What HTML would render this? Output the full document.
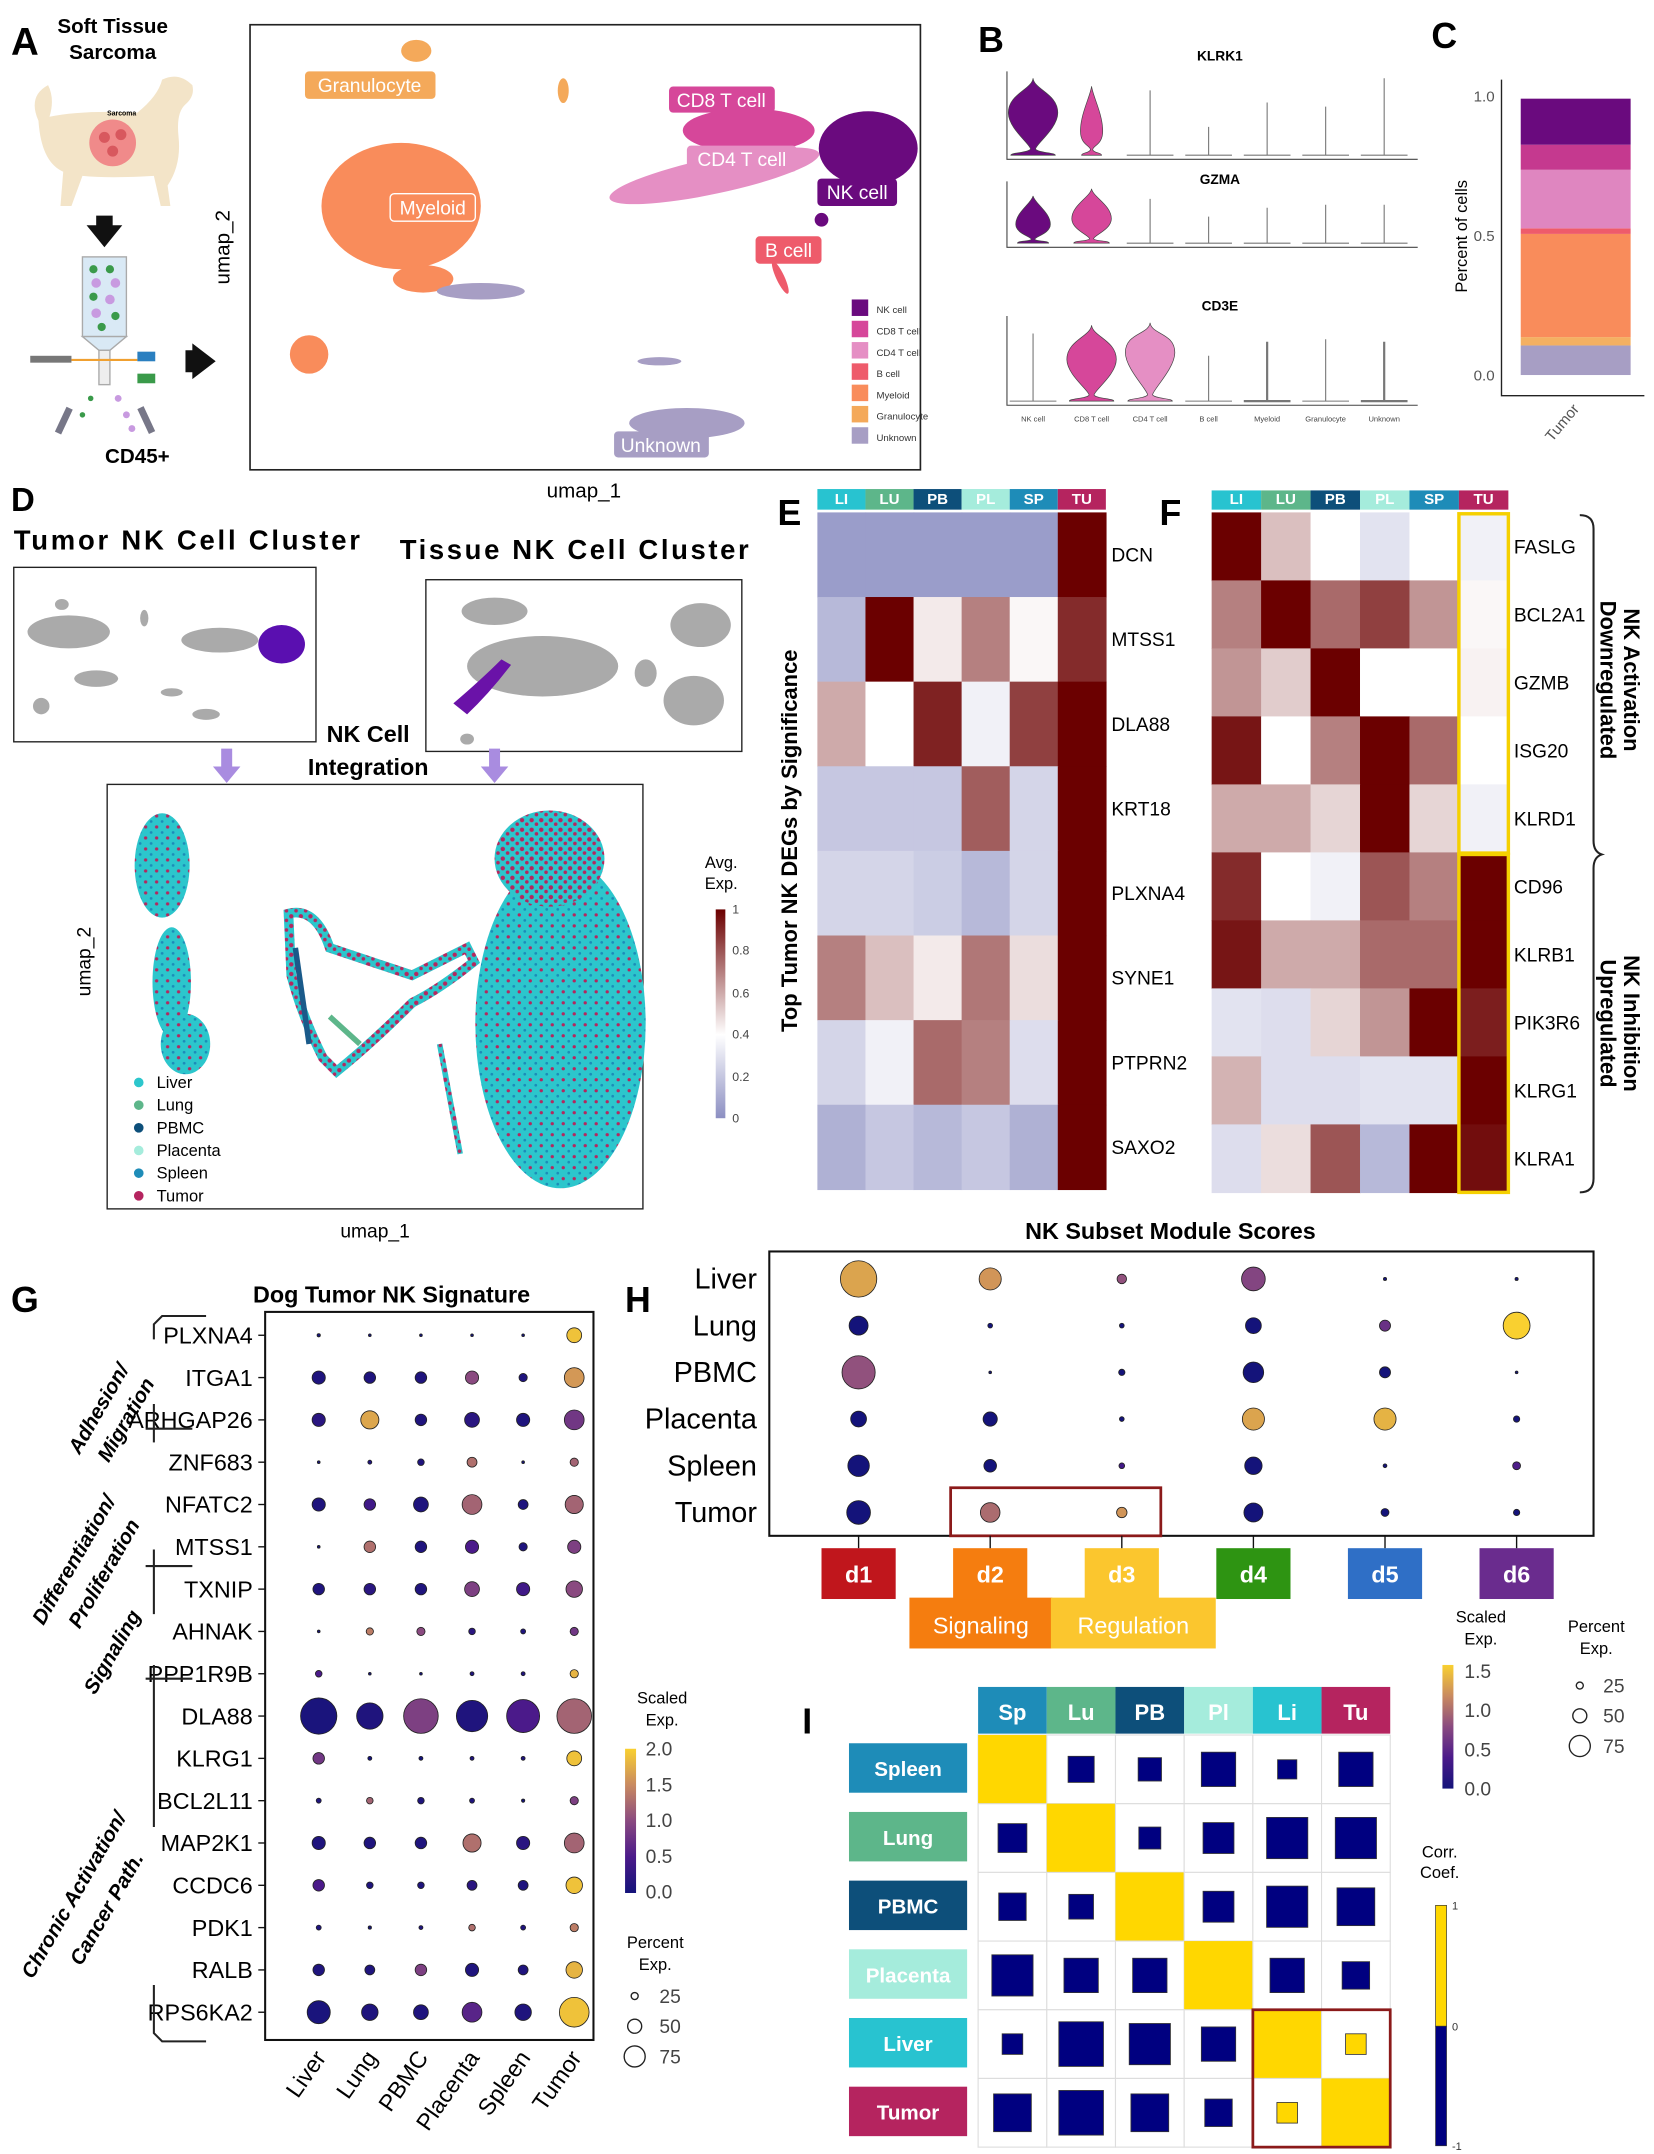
<!DOCTYPE html>
<html><head><meta charset="utf-8">
<style>
html,body{margin:0;padding:0;background:#fff;}
svg{display:block;font-family:"Liberation Sans",sans-serif;}
.b{font-weight:bold;}
</style></head>
<body>
<svg id="fig" xmlns="http://www.w3.org/2000/svg" width="1654" height="2154" viewBox="0 0 1204 1568">
<defs>
<pattern id="mix" width="8" height="8" patternUnits="userSpaceOnUse">
<rect width="8" height="8" fill="#2cc6cc"/>
<circle cx="2" cy="2" r="1.2" fill="#b3285f"/>
<circle cx="6" cy="6" r="1" fill="#1c8cb8"/>
</pattern>
<pattern id="mix2" width="7" height="7" patternUnits="userSpaceOnUse">
<rect width="7" height="7" fill="#2cc6cc"/>
<circle cx="2" cy="2" r="1.6" fill="#b3285f"/>
<circle cx="5.5" cy="5" r="1.3" fill="#b3285f"/>
</pattern>
<linearGradient id="gEx" x1="0" y1="1" x2="0" y2="0">
<stop offset="0" stop-color="#8c8fc2"/><stop offset="0.4" stop-color="#ffffff"/><stop offset="1" stop-color="#6b0000"/>
</linearGradient>
<linearGradient id="gPl" x1="0" y1="1" x2="0" y2="0">
<stop offset="0" stop-color="#14137a"/><stop offset="0.25" stop-color="#4b1a8a"/><stop offset="0.5" stop-color="#8a4a80"/><stop offset="0.75" stop-color="#c98a60"/><stop offset="1" stop-color="#f9d030"/>
</linearGradient>
</defs>

<!-- Panel A -->
<g>
<text x="8" y="40" font-size="28" class="b">A</text>
<text x="82" y="24" font-size="15" class="b" text-anchor="middle">Soft Tissue</text>
<text x="82" y="43" font-size="15" class="b" text-anchor="middle">Sarcoma</text>
<g>
<path d="M28,88 Q20,70 35,62 Q40,72 36,85 Q60,80 100,82 Q115,70 118,58 Q130,52 140,62 Q142,70 135,76 Q128,82 130,100 Q132,120 122,135 L124,150 L117,150 L112,128 Q80,130 60,128 L52,150 L44,150 L46,125 Q30,118 28,88 Z" fill="#f3e4c8"/>
<circle cx="82" cy="104" r="17" fill="#f08a8a"/>
<circle cx="76" cy="100" r="4" fill="#d8585e"/><circle cx="88" cy="98" r="4" fill="#d8585e"/><circle cx="82" cy="110" r="4" fill="#d8585e"/>
<text x="78" y="84" font-size="5" class="b">Sarcoma</text>
</g>
<path d="M70,157 L82,157 L82,164 L89,164 L76,180 L63,164 L70,164 Z" fill="#111"/>
<g>
<rect x="60" y="187" width="32" height="58" fill="#d9e9f5" stroke="#aaa"/>
<circle cx="68" cy="196" r="3" fill="#3a9a4a"/><circle cx="80" cy="196" r="3" fill="#3a9a4a"/><circle cx="70" cy="206" r="3.5" fill="#c89ae0"/><circle cx="84" cy="206" r="3.5" fill="#c89ae0"/><circle cx="68" cy="216" r="3" fill="#3a9a4a"/><circle cx="80" cy="218" r="3.5" fill="#c89ae0"/><circle cx="70" cy="228" r="3.5" fill="#c89ae0"/><circle cx="84" cy="230" r="3" fill="#3a9a4a"/><circle cx="74" cy="238" r="3" fill="#3a9a4a"/>
<path d="M60,245 L92,245 L80,255 L72,255 Z" fill="#d9e9f5" stroke="#aaa"/>
<rect x="72" y="255" width="8" height="25" fill="#eee" stroke="#aaa"/>
<rect x="22" y="259" width="30" height="5" fill="#777"/>
<line x1="52" y1="262" x2="100" y2="262" stroke="#f0a030" stroke-width="1.5"/>
<rect x="100" y="256" width="13" height="7" fill="#2a7fc0"/><rect x="100" y="272" width="13" height="7" fill="#3a9a4a"/>
<circle cx="66" cy="290" r="2" fill="#3a9a4a"/><circle cx="60" cy="302" r="2" fill="#3a9a4a"/><circle cx="86" cy="290" r="2.5" fill="#c89ae0"/><circle cx="92" cy="302" r="2.5" fill="#c89ae0"/><circle cx="96" cy="312" r="2.5" fill="#c89ae0"/>
<rect x="44" y="296" width="5" height="20" fill="#778" transform="rotate(25 46 306)"/><rect x="104" y="296" width="5" height="20" fill="#778" transform="rotate(-25 106 306)"/>
</g>
<path d="M135,255 L140,255 L140,250 L157,263 L140,276 L140,271 L135,271 Z" fill="#111"/>
<text x="100" y="337" font-size="15" class="b" text-anchor="middle">CD45+</text>
<rect x="182" y="18" width="488" height="324" fill="none" stroke="#222" stroke-width="1.2"/>
<text transform="translate(167,180) rotate(-90)" font-size="15" text-anchor="middle">umap_2</text>
<text x="425" y="362" font-size="15" text-anchor="middle">umap_1</text>
<g>
<ellipse cx="303" cy="37" rx="11" ry="8" fill="#f4a95a"/>
<ellipse cx="410" cy="66" rx="4" ry="9" fill="#f4a95a"/>
<ellipse cx="292" cy="150" rx="58" ry="46" fill="#f98c5b"/>
<ellipse cx="308" cy="203" rx="22" ry="10" fill="#f98c5b"/>
<ellipse cx="225" cy="258" rx="14" ry="14" fill="#f98c5b"/>
<ellipse cx="545" cy="95" rx="48" ry="16" fill="#d6479a"/>
<ellipse cx="520" cy="128" rx="78" ry="13" transform="rotate(-12 520 128)" fill="#e58fc4"/>
<ellipse cx="632" cy="108" rx="36" ry="27" fill="#6a0a7e"/>
<ellipse cx="598" cy="160" rx="5" ry="5" fill="#6a0a7e"/>
<ellipse cx="568" cy="202" rx="3" ry="13" transform="rotate(-25 568 202)" fill="#ee5b6b"/>
<ellipse cx="350" cy="212" rx="32" ry="6" fill="#a79ec4"/>
<ellipse cx="480" cy="263" rx="16" ry="3" fill="#a79ec4"/>
<ellipse cx="500" cy="308" rx="42" ry="11" fill="#a79ec4"/>
</g>
<g font-size="14" fill="#fff">
<rect x="222" y="52" width="95" height="20" rx="3" fill="#f4a95a"/><text x="269" y="67" text-anchor="middle" fill="#fff">Granulocyte</text>
<rect x="284" y="141" width="62" height="20" rx="3" fill="#f98c5b" stroke="#fff"/><text x="315" y="156" text-anchor="middle" fill="#fff">Myeloid</text>
<rect x="487" y="63" width="77" height="19" rx="3" fill="#d6479a"/><text x="525" y="78" text-anchor="middle" fill="#fff">CD8 T cell</text>
<rect x="500" y="106" width="80" height="19" rx="3" fill="#e58fc4"/><text x="540" y="121" text-anchor="middle" fill="#fff">CD4 T cell</text>
<rect x="595" y="130" width="58" height="20" rx="3" fill="#6a0a7e"/><text x="624" y="145" text-anchor="middle" fill="#fff">NK cell</text>
<rect x="550" y="172" width="48" height="20" rx="3" fill="#ee5b6b"/><text x="574" y="187" text-anchor="middle" fill="#fff">B cell</text>
<rect x="447" y="314" width="69" height="19" rx="3" fill="#a79ec4"/><text x="481" y="329" text-anchor="middle" fill="#fff">Unknown</text>
</g>
<g id="legA"></g>
</g>

<!-- Panel B/C -->
<text x="712" y="38" font-size="26" class="b">B</text>
<g id="violins"></g>
<text x="1042" y="35" font-size="26" class="b">C</text>
<g id="barC"></g>

<!-- Panel D -->
<g>
<text x="8" y="372" font-size="24" class="b">D</text>
<text x="10" y="400" font-size="20" class="b" textLength="252">Tumor NK Cell Cluster</text>
<text x="291" y="407" font-size="20" class="b" textLength="254">Tissue NK Cell Cluster</text>
<rect x="10" y="413" width="220" height="127" fill="#fff" stroke="#222"/>
<g fill="#aaa">
<ellipse cx="45" cy="440" rx="5" ry="4"/><ellipse cx="50" cy="460" rx="30" ry="12"/><ellipse cx="160" cy="466" rx="28" ry="9"/><ellipse cx="70" cy="494" rx="16" ry="6"/><ellipse cx="30" cy="514" rx="6" ry="6"/><ellipse cx="150" cy="520" rx="10" ry="4"/><ellipse cx="125" cy="504" rx="8" ry="3"/><ellipse cx="105" cy="450" rx="3" ry="6"/>
<ellipse cx="205" cy="469" rx="17" ry="14" fill="#5a0fb0"/>
</g>
<rect x="310" y="422" width="230" height="125" fill="#fff" stroke="#222"/>
<g fill="#aaa">
<ellipse cx="360" cy="445" rx="24" ry="10"/><ellipse cx="395" cy="485" rx="55" ry="22"/><ellipse cx="510" cy="455" rx="22" ry="16"/><ellipse cx="505" cy="510" rx="22" ry="18"/><ellipse cx="470" cy="490" rx="8" ry="10"/><ellipse cx="340" cy="538" rx="5" ry="4"/>
<path d="M330,512 Q350,495 365,480 L372,484 Q356,505 340,520 Z" fill="#6a12a8"/>
</g>
<text x="268" y="540" font-size="17" class="b" text-anchor="middle">NK Cell</text>
<text x="268" y="564" font-size="17" class="b" text-anchor="middle">Integration</text>
<path d="M161,545 L169,545 L169,558 L175,558 L165,570 L155,558 L161,558 Z" fill="#a98ce0"/>
<path d="M356,545 L364,545 L364,558 L370,558 L360,570 L350,558 L356,558 Z" fill="#a98ce0"/>
<rect x="78" y="571" width="390" height="309" fill="#fff" stroke="#222"/>
<g>
<ellipse cx="118" cy="630" rx="20" ry="38" fill="url(#mix)"/>
<ellipse cx="125" cy="715" rx="14" ry="40" fill="url(#mix)"/>
<ellipse cx="135" cy="760" rx="18" ry="22" fill="url(#mix)"/>
<ellipse cx="408" cy="745" rx="62" ry="120" fill="url(#mix)"/>
<ellipse cx="400" cy="625" rx="40" ry="35" fill="url(#mix2)"/>
<path d="M210,665 Q230,660 240,690 Q270,700 300,710 Q320,700 340,690 L345,700 Q320,720 300,730 Q270,760 245,780 L235,770 Q220,740 212,710 Z" fill="none" stroke="url(#mix2)" stroke-width="7"/>
<path d="M215,690 L225,760" stroke="#1a5a8a" stroke-width="4"/>
<path d="M240,740 L262,760" stroke="#5db68a" stroke-width="4"/>
<path d="M320,760 L335,840" stroke="url(#mix2)" stroke-width="4"/>
</g>
<text transform="translate(66,700) rotate(-90)" font-size="14" text-anchor="middle">umap_2</text>
<text x="273" y="901" font-size="14" text-anchor="middle">umap_1</text>
<g id="legD"></g>
<text x="525" y="632" font-size="12" text-anchor="middle">Avg.</text>
<text x="525" y="647" font-size="12" text-anchor="middle">Exp.</text>
<rect x="521" y="662" width="7" height="152" fill="url(#gEx)"/>
<g font-size="9" fill="#444">
<text x="533" y="665">1</text><text x="533" y="695">0.8</text><text x="533" y="726">0.6</text><text x="533" y="756">0.4</text><text x="533" y="787">0.2</text><text x="533" y="817">0</text>
</g>
</g>

<!-- Panel E -->
<text x="566" y="382" font-size="26" class="b">E</text>
<text transform="translate(580,612) rotate(-90)" font-size="16" class="b" text-anchor="middle">Top Tumor NK DEGs by Significance</text>
<g id="heatE"></g>
<text x="844" y="382" font-size="26" class="b">F</text>
<g id="heatF"></g>
<g fill="none" stroke="#222" stroke-width="1.5">
<path d="M1150,375 Q1160,375 1160,385 L1160,612 Q1160,620 1166,622 Q1160,624 1160,632 L1160,858 Q1160,868 1150,868"/>
</g>
<text transform="translate(1182,495) rotate(90)" font-size="16" class="b" text-anchor="middle">NK Activation</text>
<text transform="translate(1165,495) rotate(90)" font-size="16" class="b" text-anchor="middle">Downregulated</text>
<text transform="translate(1182,745) rotate(90)" font-size="16" class="b" text-anchor="middle">NK Inhibition</text>
<text transform="translate(1165,745) rotate(90)" font-size="16" class="b" text-anchor="middle">Upregulated</text>

<!-- Panel G -->
<text x="8" y="955" font-size="26" class="b">G</text>
<text x="285" y="948" font-size="17" class="b" text-anchor="middle">Dog Tumor NK Signature</text>
<g id="dotG"></g>
<g fill="none" stroke="#222" stroke-width="1.5">
<path d="M150,958 L118,958 L112,964 L112,975"/>
<path d="M112,1022 L112,1040 L106,1040 M112,1040 L140,1040"/>
<path d="M112,1040 L112,1050"/>
<path d="M140,1140 L112,1140 L106,1140 M112,1128 L112,1175"/>
<path d="M112,1212 L112,1222 L106,1222 M112,1222 L140,1222 M112,1222 L112,1330"/>
<path d="M112,1445 L112,1480 L118,1486 L150,1486"/>
</g>
<g font-size="15" class="b" font-style="italic">
<text transform="translate(76,1028) rotate(-60)" text-anchor="middle">Adhesion/</text>
<text transform="translate(96,1036) rotate(-60)" text-anchor="middle">Migration</text>
<text transform="translate(58,1138) rotate(-60)" text-anchor="middle">Differentiation/</text>
<text transform="translate(80,1148) rotate(-60)" text-anchor="middle">Proliferation</text>
<text transform="translate(86,1205) rotate(-60)" text-anchor="middle">Signaling</text>
<text transform="translate(58,1382) rotate(-60)" text-anchor="middle">Chronic Activation/</text>
<text transform="translate(82,1392) rotate(-60)" text-anchor="middle">Cancer Path.</text>
</g>
<g id="legG"></g>

<!-- Panel H -->
<text x="455" y="955" font-size="26" class="b">H</text>
<text x="852" y="902" font-size="17" class="b" text-anchor="middle">NK Subset Module Scores</text>
<g id="dotH"></g>
<g id="legH"></g>

<!-- Panel I -->
<text x="584" y="1262" font-size="26" class="b">I</text>
<g id="corrI"></g>
<text x="1048" y="1352" font-size="12" text-anchor="middle">Corr.</text>
<text x="1048" y="1367" font-size="12" text-anchor="middle">Coef.</text>
<rect x="1045" y="1387" width="8" height="88" fill="#ffd700" stroke="#333" stroke-width="0.5"/>
<rect x="1045" y="1475" width="8" height="87" fill="#000080" stroke="#333" stroke-width="0.5"/>
<g font-size="8" fill="#333"><text x="1057" y="1390">1</text><text x="1057" y="1478">0</text><text x="1057" y="1565">-1</text></g>
</svg>

<script>
const NS='http://www.w3.org/2000/svg';
function mk(tag, parent, attrs){const e=document.createElementNS(NS,tag);for(const k in attrs)e.setAttribute(k,attrs[k]);parent.appendChild(e);return e;}
function tx(parent,x,y,s,size,extra){const t=mk('text',parent,Object.assign({x:x,y:y,'font-size':size},extra||{}));t.textContent=s;return t;}
function lerp(a,b,t){return a+(b-a)*t;}
function hex(h){return [parseInt(h.slice(1,3),16),parseInt(h.slice(3,5),16),parseInt(h.slice(5,7),16)];}
function ramp(stops,v){v=Math.max(0,Math.min(1,v));for(let i=1;i<stops.length;i++){if(v<=stops[i][0]){const t=(v-stops[i-1][0])/(stops[i][0]-stops[i-1][0]);const a=hex(stops[i-1][1]),b=hex(stops[i][1]);return 'rgb('+a.map((c,j)=>Math.round(lerp(c,b[j],t))).join(',')+')';}}return stops[stops.length-1][1];}
const expStops=[[0,'#8c8fc2'],[0.4,'#ffffff'],[1,'#6b0000']];
const plStops=[[0,'#14137a'],[0.25,'#4b1a8a'],[0.5,'#8a4a80'],[0.75,'#c98a60'],[1,'#f9d030']];

/* ---------- Panel A legend ---------- */
const cellTypes=['NK cell','CD8 T cell','CD4 T cell','B cell','Myeloid','Granulocyte','Unknown'];
const cellColors=['#6a0a7e','#d6479a','#e58fc4','#ee5b6b','#f98c5b','#f4a95a','#a79ec4'];
const legA=document.getElementById('legA');
cellTypes.forEach((c,i)=>{
  const r=mk('rect',legA,{x:620,y:218+i*15.5,width:12,height:12,fill:cellColors[i]});
  
  
  const t=tx(legA,638,228+i*15.5,c,7,{fill:'#333'});
  
  
});

/* ---------- Panel B violins ---------- */
const violinGenes=['KLRK1','GZMA','CD3E'];
const violinHeights=[[0.95,0.85,0.8,0.35,0.65,0.6,0.95],[0.8,0.92,0.75,0.45,0.6,0.65,0.65],[0.82,0.92,0.95,0.55,0.72,0.75,0.72]];
const violinWidths=[[1,0.45,0,0,0,0,0],[0.7,0.8,0,0,0,0,0],[0,1,1,0,0.05,0,0.07]];
const violinBulge=[[0.55,0.35,0,0,0,0,0],[0.4,0.45,0,0,0,0,0],[0,0.55,0.62,0,0.1,0,0.1]];
const vRows=[{base:113,top:58,title:44},{base:177,top:138,title:134},{base:292,top:236,title:226}];
const vg=document.getElementById('violins');
const vx=i=>752+i*42.6;
violinGenes.forEach((g,r)=>{
  const R=vRows[r],H=R.base-R.top+4;
  const t=tx(vg,888,R.title,g,10,{'text-anchor':'middle','font-weight':'bold'});
  
  
  const ax=mk('path',vg,{d:`M733,${R.top-6} L733,${R.base+3} L1032,${R.base+3}`,fill:'none',stroke:'#444','stroke-width':0.8});
  
  
  cellTypes.forEach((c,i)=>{
    const x=vx(i),h=violinHeights[r][i]*H,w=violinWidths[r][i]*18,b=R.base,c0=violinBulge[r][i];
    if(w>2){
      const yb=b-h*c0;
      const d=`M${x},${b-h} C${x+1},${b-h*0.85} ${x+w},${yb-h*0.25} ${x+w},${yb} C${x+w},${yb+h*0.2} ${x+w*0.1},${b-h*0.14} ${x+w*0.1},${b-h*0.08} C${x+w*0.2},${b-h*0.03} ${x+w*0.9},${b-2} ${x+w*0.9},${b} L${x-w*0.9},${b} C${x-w*0.9},${b-2} ${x-w*0.2},${b-h*0.03} ${x-w*0.1},${b-h*0.08} C${x-w*0.1},${b-h*0.14} ${x-w},${yb+h*0.2} ${x-w},${yb} C${x-w},${yb-h*0.25} ${x-1},${b-h*0.85} ${x},${b-h} Z`;
      const p=mk('path',vg,{d:d,fill:cellColors[i],stroke:'#444','stroke-width':0.5});
      
      
    } else {
      const l=mk('path',vg,{d:`M${x},${b-h} L${x},${b} M${x-17},${b} L${x+17},${b}`,stroke:'#777','stroke-width':w>0?1.6:0.8,fill:'none'});
      
      
    }
  });
});
cellTypes.forEach((c,i)=>{
  const t=tx(vg,vx(i),307,c,5.5,{'text-anchor':'middle',fill:'#444'});
  
  
});

/* ---------- Panel C stacked bar ---------- */
const barFractions=[0.106,0.03,0.37,0.02,0.21,0.09,0.165];
const barColors=['#a79ec4','#f4b062','#f98c5b','#ee5b6b','#df86c0','#c5398f','#6a0a7e'];
const cTicks=[0,0.5,1.0];
const cg=document.getElementById('barC');
const cy=v=>273-v*203;
let acc=0;
barFractions.forEach((f,i)=>{
  const r=mk('rect',cg,{x:1107,y:cy(acc+f),width:80,height:f*203,fill:barColors[i]});
  
  
  acc+=f;
});
const cax=mk('path',cg,{d:'M1093,58 L1093,288 L1197,288',fill:'none',stroke:'#222','stroke-width':1});


cTicks.forEach(v=>{
  const t=tx(cg,1088,cy(v)+4,v.toFixed(1),11,{'text-anchor':'end',fill:'#555'});
  
  
});
const cyt=tx(cg,0,0,'Percent of cells',12,{'text-anchor':'middle',transform:'translate(1068,172) rotate(-90)'});


const cxt=tx(cg,0,0,'Tumor',11,{'text-anchor':'end',fill:'#555',transform:'translate(1150,298) rotate(-50)'});



/* ---------- Panel D legend ---------- */
const tissues=['Liver','Lung','PBMC','Placenta','Spleen','Tumor'];
const tissueColors=['#2cc6cc','#5db68a','#0d4f7a','#a5ecdc','#1e8cb8','#b5245f'];
const legD=document.getElementById('legD');
tissues.forEach((s,i)=>{
  const c=mk('circle',legD,{cx:101,cy:788+i*16.5,r:3.5,fill:tissueColors[i]});
  
  
  const t=tx(legD,114,792+i*16.5,s,12);
  
  
});

/* ---------- Heatmaps E and F ---------- */
const hdrCols=['LI','LU','PB','PL','SP','TU'];
const hdrColors=['#28c3d0','#5db68a','#0d4f7a','#a5ecdc','#1e8cb8','#b5245f'];
const eGenes=['DCN','MTSS1','DLA88','KRT18','PLXNA4','SYNE1','PTPRN2','SAXO2'];
const eValues=[
[0.05,0.05,0.05,0.05,0.05,1],
[0.15,1,0.45,0.7,0.42,0.9],
[0.6,0.4,0.92,0.35,0.85,1],
[0.2,0.2,0.2,0.78,0.25,1],
[0.25,0.25,0.22,0.15,0.25,1],
[0.7,0.55,0.45,0.72,0.48,1],
[0.25,0.35,0.75,0.7,0.28,1],
[0.12,0.2,0.15,0.2,0.12,1]];
const fGenes=['FASLG','BCL2A1','GZMB','ISG20','KLRD1','CD96','KLRB1','PIK3R6','KLRG1','KLRA1'];
const fValues=[
[1,0.55,0.4,0.3,0.4,0.35],
[0.7,1,0.75,0.85,0.65,0.42],
[0.65,0.52,1,0.4,0.4,0.43],
[0.95,0.4,0.7,1,0.75,0.4],
[0.6,0.6,0.5,1,0.5,0.35],
[0.9,0.4,0.35,0.8,0.7,1],
[0.95,0.6,0.6,0.75,0.75,1],
[0.3,0.28,0.5,0.65,1,0.93],
[0.58,0.28,0.28,0.3,0.3,1],
[0.28,0.48,0.8,0.15,1,0.97]];
function heat(gid,genes,vals,x0,y0,cw,rh,hy){
  const g=document.getElementById(gid);
  hdrCols.forEach((h,i)=>{
    const r=mk('rect',g,{x:x0+i*cw,y:hy,width:cw,height:y0-hy-2,fill:hdrColors[i]});
    
    
    const t=tx(g,x0+i*cw+cw/2,y0-6,h,11,{'text-anchor':'middle',fill:'#fff','font-weight':'bold'});
    
    
  });
  genes.forEach((gn,j)=>{
    vals[j].forEach((v,i)=>{
      const r=mk('rect',g,{x:x0+i*cw,y:y0+j*rh,width:cw+0.5,height:rh+0.5,fill:ramp(expStops,v)});
      
      
    });
    const t=tx(g,x0+6*cw+4,y0+j*rh+rh/2+5,gn,14);
    
    
  });
}
heat('heatE',eGenes,eValues,595,373,35,61.6,356);
heat('heatF',fGenes,fValues,882,373,36,49.5,357);
const fg=document.getElementById('heatF');
const yb1=mk('rect',fg,{x:1062,y:374,width:36,height:247,fill:'none',stroke:'#f5d000','stroke-width':2.5});


const yb2=mk('rect',fg,{x:1062,y:622,width:36,height:246,fill:'none',stroke:'#f5d000','stroke-width':2.5});



/* ---------- Panel G dot plot ---------- */
const gGenes=['PLXNA4','ITGA1','ARHGAP26','ZNF683','NFATC2','MTSS1','TXNIP','AHNAK','PPP1R9B','DLA88','KLRG1','BCL2L11','MAP2K1','CCDC6','PDK1','RALB','RPS6KA2'];
const gExp=[
[0,0,0,0,0,1.9],[0.1,0.1,0.1,1.0,0.1,1.6],[0.2,1.7,0.1,0.2,0.1,0.8],[0,0.1,0.1,1.3,0,1.2],
[0.1,0.4,0.1,1.2,0.1,1.2],[0,1.3,0.1,0.5,0.1,0.9],[0.1,0.2,0.1,0.9,0.4,1.0],[0,1.4,1.0,0.2,0.1,0.8],
[0.5,0,0,0.1,0.1,1.8],[0.05,0.1,0.9,0.1,0.5,1.2],[0.8,0,0,0.1,0.1,1.9],[0.1,1.2,0.1,0.1,0,0.9],
[0.1,0.1,0.1,1.3,0.2,1.2],[0.5,0.1,0.1,0.2,0.1,1.9],[0.1,0,0.1,1.3,0.1,1.4],[0.1,0.1,0.9,0.1,0.1,1.8],
[0.05,0.1,0.1,0.6,0.1,1.9]];
const gPct=[
[10,8,8,8,8,45],[40,35,35,40,25,60],[40,55,35,45,40,60],[8,12,20,30,8,25],
[40,35,45,60,30,55],[8,35,35,40,25,40],[35,35,35,45,40,50],[8,22,25,20,15,25],
[20,5,8,12,12,25],[110,80,105,95,100,105],[35,12,12,12,12,45],[15,20,20,15,10,25],
[40,35,35,55,40,60],[35,20,20,30,30,50],[15,10,12,20,15,25],[35,30,35,40,30,50],
[70,50,45,60,50,90]];
const expTicks=['0.0','0.5','1.0','1.5','2.0'];
const pctTicks=[25,50,75];
const dg=document.getElementById('dotG');
const xG=i=>232+i*37.2, yG=j=>972+j*30.8, rG=p=>p*0.12;
const gb=mk('rect',dg,{x:193,y:955,width:239,height:530,fill:'none',stroke:'#111','stroke-width':1.5});


gGenes.forEach((gn,j)=>{
  const t=tx(dg,184,yG(j)+6,gn,17,{'text-anchor':'end'});
  
  
  const tk=mk('line',dg,{x1:188,y1:yG(j),x2:193,y2:yG(j),stroke:'#111'});
  
  
  gExp[j].forEach((v,i)=>{
    const c=mk('circle',dg,{cx:xG(i),cy:yG(j),r:Math.max(1,rG(gPct[j][i])),fill:ramp(plStops,v/2),stroke:'#222','stroke-width':0.6});
    
    
  });
});
tissues.forEach((s,i)=>{
  const t=tx(dg,0,0,s,17,{'text-anchor':'end',transform:`translate(${xG(i)+6},${1498}) rotate(-55)`});
  
  
});
const lg=document.getElementById('legG');
[['Scaled',482,1240],['Exp.',482,1256],['Percent',477,1418],['Exp.',477,1434]].forEach(a=>{
  const t=tx(lg,a[1],a[2],a[0],12,{'text-anchor':'middle'});
  
  
});
const lgb=mk('rect',lg,{x:455,y:1273,width:8,height:105,fill:'url(#gPl)'});


expTicks.forEach((s,i)=>{
  const t=tx(lg,470,1378-i*26+4,s,14,{fill:'#444'});
  
  
});
pctTicks.forEach((p,i)=>{
  const c=mk('circle',lg,{cx:462,cy:1453+i*22,r:rG(p)*0.85,fill:'none',stroke:'#222'});
  
  
  const t=tx(lg,480,1458+i*22,String(p),14,{fill:'#444'});
  
  
});

/* ---------- Panel H dot plot ---------- */
const hRows=['Liver','Lung','PBMC','Placenta','Spleen','Tumor'];
const hCols=['d1','d2','d3','d4','d5','d6'];
const hColColors=['#c0161c','#f57d0f','#fbc62e','#2e9412','#2f6fc6','#6a2c8e'];
const hExp=[
[1.6,1.5,1.0,0.9,0,0],[0,0,0,0,0.7,1.9],[1.0,0,0,0,0,0],[0,0,0,1.6,1.7,0],[0,0,0.4,0,0,0.5],[0,1.2,1.5,0,0,0]];
const hPct=[
[115,70,30,75,10,10],[60,15,15,50,35,85],[105,6,20,65,35,8],[50,45,15,70,70,20],[68,40,18,55,12,25],[75,62,33,60,25,20]];
const hExpTicks=['0.0','0.5','1.0','1.5'];
const hg=document.getElementById('dotH');
const xH=i=>625+i*95.8, yH=j=>931+j*34, rH=p=>p*0.115;
const hb=mk('rect',hg,{x:560,y:911,width:600,height:207,fill:'none',stroke:'#111','stroke-width':1.5});


hRows.forEach((rn,j)=>{
  const t=tx(hg,551,yH(j)+7,rn,21,{'text-anchor':'end'});
  
  
  hExp[j].forEach((v,i)=>{
    const c=mk('circle',hg,{cx:xH(i),cy:yH(j),r:Math.max(1,rH(hPct[j][i])),fill:ramp(plStops,v/1.9),stroke:'#222','stroke-width':0.6});
    
    
  });
});
const hr=mk('rect',hg,{x:692,y:1083,width:153,height:35,fill:'none',stroke:'#8b1a1a','stroke-width':2});


const sig=mk('rect',hg,{x:662,y:1163,width:104,height:37,fill:'#f57d0f'});


const reg=mk('rect',hg,{x:765,y:1163,width:120,height:37,fill:'#fbc62e'});


hCols.forEach((c,i)=>{
  const r=mk('rect',hg,{x:xH(i)-27,y:1127,width:54,height:37,fill:hColColors[i]});
  
  
  const tk=mk('line',hg,{x1:xH(i),y1:1118,x2:xH(i),y2:1127,stroke:'#111'});
  
  
  const t=tx(hg,xH(i),1152,c,17,{'text-anchor':'middle',fill:'#fff','font-weight':'bold'});
  
  
});
const st=tx(hg,714,1189,'Signaling',17,{'text-anchor':'middle',fill:'#fff'});


const rt=tx(hg,825,1189,'Regulation',17,{'text-anchor':'middle',fill:'#fff'});


const lh=document.getElementById('legH');
[['Scaled',1078,1181],['Exp.',1078,1197],['Percent',1162,1188],['Exp.',1162,1204]].forEach(a=>{
  const t=tx(lh,a[1],a[2],a[0],12,{'text-anchor':'middle'});
  
  
});
const lhb=mk('rect',lh,{x:1050,y:1212,width:8,height:90,fill:'url(#gPl)'});


hExpTicks.forEach((s,i)=>{
  const t=tx(lh,1066,1302-i*28.5+5,s,14,{fill:'#444'});
  
  
});
pctTicks.forEach((p,i)=>{
  const c=mk('circle',lh,{cx:1150,cy:1227+i*22,r:rG(p)*0.85,fill:'none',stroke:'#222'});
  
  
  const t=tx(lh,1167,1232+i*22,String(p),14,{fill:'#444'});
  
  
});

/* ---------- Panel I correlation ---------- */
const iCols=['Sp','Lu','PB','Pl','Li','Tu'];
const iRows=['Spleen','Lung','PBMC','Placenta','Liver','Tumor'];
const iColors=['#1e8cb8','#5db68a','#0d4f7a','#a5ecdc','#28c3d0','#b5245f'];
const iCorr=[
[1,-0.38,-0.34,-0.5,-0.28,-0.5],
[-0.42,1,-0.32,-0.45,-0.6,-0.6],
[-0.4,-0.36,1,-0.45,-0.6,-0.55],
[-0.6,-0.5,-0.5,1,-0.5,-0.4],
[-0.3,-0.65,-0.6,-0.5,1,0.3],
[-0.55,-0.65,-0.55,-0.4,0.3,1]];
const ig=document.getElementById('corrI');
const xI=i=>712+i*50, yI=j=>1263+j*50;
iCols.forEach((c,i)=>{
  const r=mk('rect',ig,{x:xI(i),y:1228,width:50,height:34,fill:iColors[i]});
  
  
  const t=tx(ig,xI(i)+25,1252,c,16,{'text-anchor':'middle',fill:'#fff','font-weight':'bold'});
  
  
});
iRows.forEach((rn,j)=>{
  const r=mk('rect',ig,{x:618,y:yI(j)+6,width:86,height:36,fill:iColors[j]});
  
  
  const t=tx(ig,661,yI(j)+30,rn,15,{'text-anchor':'middle',fill:'#fff','font-weight':'bold'});
  
  
  iCorr[j].forEach((v,i)=>{
    const cell=mk('rect',ig,{x:xI(i),y:yI(j),width:50,height:50,fill:'#fff',stroke:'#ddd','stroke-width':0.8});
    
    
    const s=Math.abs(v)*50;
    const sq=mk('rect',ig,{x:xI(i)+25-s/2,y:yI(j)+25-s/2,width:s,height:s,fill:v>0?'#ffd700':'#000080',stroke:v===1?'none':'#333','stroke-width':0.6});
    
    
  });
});
const ibox=mk('rect',ig,{x:xI(4),y:yI(4),width:100,height:100,fill:'none',stroke:'#8b1a1a','stroke-width':2});


</script>
</body></html>
